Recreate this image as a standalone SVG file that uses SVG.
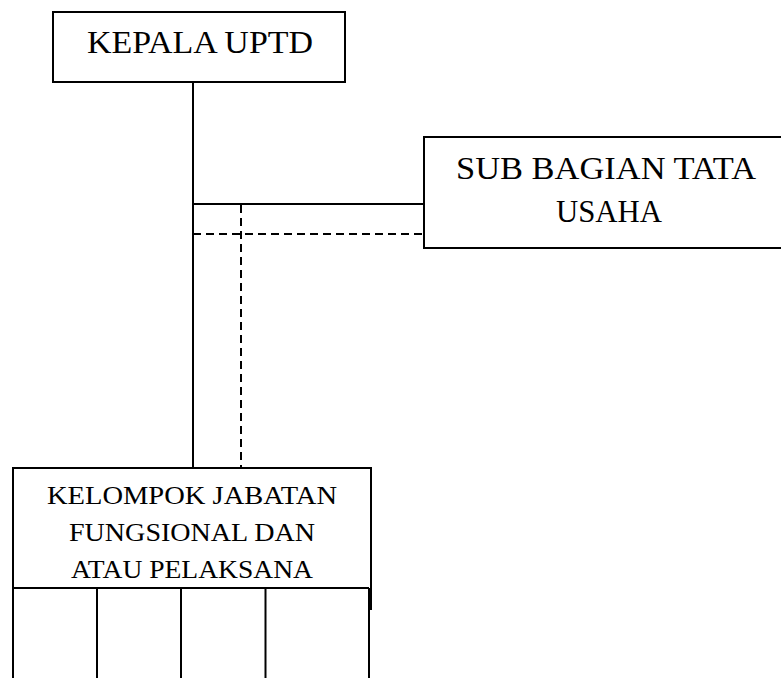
<svg xmlns="http://www.w3.org/2000/svg" width="781" height="678" viewBox="0 0 781 678">
<style>
.box{fill:#fff;stroke:#000;stroke-width:2}
.ln{stroke:#000;stroke-width:2;fill:none}
.dash{stroke:#000;stroke-width:2;fill:none;stroke-dasharray:8,5}
.t{font-family:"Liberation Serif","DejaVu Serif",serif;fill:#000;text-anchor:middle}
</style>
<rect width="781" height="678" fill="#fff"/>
<g id="connectors">
<line class="ln" x1="193" y1="82" x2="193" y2="469"/>
<line class="ln" x1="193" y1="204" x2="424" y2="204"/>
<line class="dash" x1="193" y1="234" x2="424" y2="234"/>
<line class="dash" x1="241" y1="205" x2="241" y2="469"/>
</g>
<g id="kepala">
<rect class="box" x="53" y="12" width="292" height="70"/>
<text class="t" x="200" y="53" font-size="32" textLength="226" lengthAdjust="spacingAndGlyphs">KEPALA UPTD</text>
</g>
<g id="subbagian">
<rect class="box" x="424" y="137" width="370" height="111"/>
<text class="t" x="606" y="179" font-size="32" textLength="300" lengthAdjust="spacingAndGlyphs">SUB BAGIAN TATA</text>
<text class="t" x="609" y="222" font-size="32" textLength="106" lengthAdjust="spacingAndGlyphs">USAHA</text>
</g>
<g id="kelompok">
<path class="ln" d="M13 678 V468 H371 V610"/>
<text class="t" x="192" y="504" font-size="26" textLength="290" lengthAdjust="spacingAndGlyphs">KELOMPOK JABATAN</text>
<text class="t" x="192" y="541" font-size="26" textLength="246" lengthAdjust="spacingAndGlyphs">FUNGSIONAL DAN</text>
<text class="t" x="192" y="578" font-size="26" textLength="242" lengthAdjust="spacingAndGlyphs">ATAU PELAKSANA</text>
<line class="ln" x1="13" y1="588" x2="369" y2="588"/>
<line class="ln" x1="97" y1="588" x2="97" y2="678"/>
<line class="ln" x1="181" y1="588" x2="181" y2="678"/>
<line class="ln" x1="265.5" y1="588" x2="265.5" y2="678"/>
<line class="ln" x1="369" y1="588" x2="369" y2="678"/>
</g>
</svg>
